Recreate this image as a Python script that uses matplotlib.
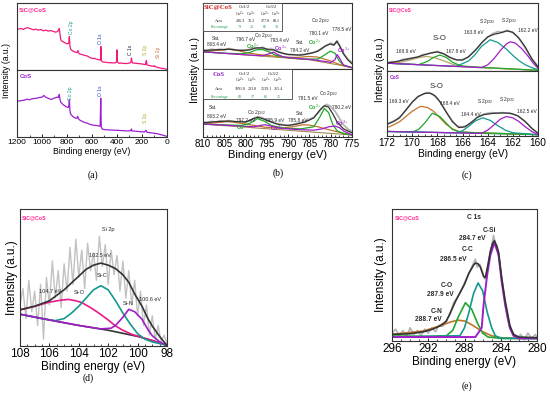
import matplotlib
matplotlib.use("Agg")
import matplotlib.pyplot as plt
from matplotlib.ticker import MultipleLocator
from matplotlib.patches import Rectangle

plt.rcParams['font.family'] = ['Liberation Sans', 'DejaVu Sans']
plt.rcParams['mathtext.fontset'] = 'custom'
plt.rcParams['mathtext.rm'] = 'Liberation Sans'
plt.rcParams['mathtext.it'] = 'Liberation Sans:italic'
plt.rcParams['mathtext.bf'] = 'Liberation Sans:bold'

# ---------------- DATA ----------------
# (a) survey spectra
a_top_x = [1200, 1190, 1170, 1150, 1130, 1110, 1090, 1070, 1050, 1030, 1010, 990, 970, 950, 930, 910, 890, 875, 862, 858,
           850, 840, 830, 820, 810, 800, 790, 785, 781, 778, 775, 770, 760, 750, 740, 730, 720, 712, 708, 700,
           690, 680, 670, 660, 650, 640, 630, 620, 610, 600, 590, 580, 570, 560, 550, 540, 532, 529, 526, 520,
           510, 500, 490, 480, 470, 460, 450, 440, 430, 420, 410, 404, 400, 396, 390, 380, 370, 360, 350, 340,
           330, 320, 310, 300, 290, 287, 284, 280, 275, 250, 200, 172, 168, 164, 160, 150, 130, 110, 104, 100,
           95, 80, 60, 40, 20, 0]
a_top_y = [0.60, 0.61, 0.62, 0.605, 0.625, 0.63, 0.615, 0.60, 0.61, 0.595, 0.605, 0.585, 0.595, 0.58, 0.59, 0.575, 0.565, 0.575, 0.62, 0.56,
           0.45, 0.43, 0.42, 0.41, 0.40, 0.39, 0.395, 0.42, 0.50, 0.40, 0.34, 0.31, 0.29, 0.28, 0.27, 0.265, 0.26, 0.29, 0.26, 0.24,
           0.235, 0.23, 0.225, 0.22, 0.215, 0.21, 0.20, 0.19, 0.18, 0.175, 0.17, 0.175, 0.165, 0.16, 0.155, 0.15, 0.15, 0.35, 0.15, 0.125,
           0.12, 0.115, 0.118, 0.11, 0.112, 0.108, 0.11, 0.105, 0.108, 0.105, 0.11, 0.12, 0.30, 0.12, 0.105, 0.10, 0.105, 0.10, 0.098, 0.10,
           0.095, 0.098, 0.10, 0.105, 0.11, 0.14, 0.18, 0.12, 0.105, 0.10, 0.09, 0.08, 0.13, 0.14, 0.075, 0.07, 0.062, 0.055, 0.058, 0.065,
           0.05, 0.042, 0.032, 0.025, 0.018, 0.012]
a_bot_x = [1200, 1180, 1160, 1140, 1120, 1100, 1080, 1060, 1040, 1020, 1000, 985, 975, 960, 940, 925, 910, 895, 880, 868,
           862, 858, 850, 840, 830, 820, 810, 800, 790, 785, 781, 778, 775, 770, 760, 750, 740, 730, 720, 715,
           710, 700, 690, 680, 670, 660, 650, 640, 630, 620, 610, 600, 580, 560, 545, 535, 530, 526, 520, 500,
           480, 460, 440, 420, 400, 380, 360, 340, 320, 300, 290, 285, 280, 260, 240, 220, 200, 180, 168, 160,
           140, 120, 100, 80, 60, 40, 20, 0]
a_bot_y = [0.53, 0.54, 0.545, 0.55, 0.565, 0.555, 0.57, 0.575, 0.58, 0.59, 0.595, 0.62, 0.60, 0.585, 0.57, 0.56, 0.575, 0.585, 0.595, 0.59,
           0.635, 0.58, 0.52, 0.50, 0.48, 0.47, 0.455, 0.445, 0.44, 0.47, 0.56, 0.44, 0.37, 0.34, 0.32, 0.30, 0.29, 0.28, 0.28, 0.31,
           0.28, 0.255, 0.245, 0.235, 0.225, 0.22, 0.21, 0.21, 0.20, 0.19, 0.185, 0.18, 0.175, 0.17, 0.165, 0.16, 0.58, 0.16, 0.12, 0.11,
           0.108, 0.105, 0.105, 0.10, 0.10, 0.098, 0.095, 0.095, 0.09, 0.092, 0.095, 0.12, 0.09, 0.088, 0.085, 0.08, 0.078, 0.075, 0.10, 0.07,
           0.065, 0.06, 0.055, 0.05, 0.04, 0.03, 0.02, 0.01]

# (b) Co 2p, SiC@CoS
b1_raw_x = [810, 809, 808, 807, 806, 805, 804, 803, 802, 801, 800, 799, 798, 797, 796, 795, 794, 793, 792, 791,
            790, 789, 788, 787, 786, 785, 784, 783, 782, 781, 780, 779, 778.5, 778, 777, 776, 775]
b1_raw_y = [0.29, 0.28, 0.30, 0.29, 0.30, 0.28, 0.31, 0.30, 0.28, 0.29, 0.28, 0.30, 0.33, 0.31, 0.33, 0.30, 0.31, 0.28, 0.26, 0.23,
            0.22, 0.22, 0.21, 0.22, 0.22, 0.24, 0.25, 0.28, 0.31, 0.36, 0.39, 0.37, 0.43, 0.37, 0.24, 0.15, 0.10]
b1_env_x = [810, 807, 804, 801, 799, 797.5, 796, 794.5, 793.4, 792, 790, 787, 784.5, 783, 781.5, 780.1, 779.3, 778.6, 778, 777, 776, 775]
b1_env_y = [0.28, 0.29, 0.30, 0.28, 0.29, 0.32, 0.32, 0.29, 0.29, 0.25, 0.22, 0.21, 0.24, 0.27, 0.34, 0.38, 0.36, 0.42, 0.36, 0.23, 0.14, 0.08]
b1_bg_x = [810, 795, 785, 778, 775]
b1_bg_y = [0.26, 0.19, 0.14, 0.06, 0.02]
b1_sat_x = [810, 807, 804, 802, 800, 797, 794, 791, 788, 785, 783, 780, 778, 775]
b1_sat_y = [0.26, 0.28, 0.30, 0.285, 0.25, 0.22, 0.20, 0.18, 0.175, 0.19, 0.18, 0.12, 0.07, 0.02]
b1_co2_x = [810, 805, 801, 799, 797.5, 796, 794.5, 793, 790, 786, 783, 781.5, 780.1, 779, 778, 777, 775]
b1_co2_y = [0.26, 0.24, 0.23, 0.25, 0.29, 0.295, 0.26, 0.21, 0.17, 0.15, 0.15, 0.21, 0.27, 0.24, 0.12, 0.06, 0.02]
b1_co3_x = [810, 800, 796, 794.5, 793.4, 792.5, 791, 788, 784, 780, 779, 778.5, 777.8, 777, 775]
b1_co3_y = [0.26, 0.215, 0.20, 0.23, 0.255, 0.22, 0.18, 0.16, 0.14, 0.10, 0.14, 0.22, 0.15, 0.06, 0.02]
b1_tab_cols = ["Co$^{2+}$", "Co$^{3+}$", "Co$^{2+}$", "Co$^{3+}$"]
b1_area = ["286.3", "76.2", "377.8", "89.1"]
b1_pct = ["79", "21", "81", "19"]

# (b) Co 2p, CoS
b2_raw_x = [810, 809, 808, 807, 806, 805, 804, 803, 802, 801, 800, 799, 798, 797, 796, 795, 794, 793, 792, 791,
            790, 789, 788, 787, 786, 785, 784, 783, 782, 781, 780, 779, 778, 777, 776, 775]
b2_raw_y = [0.22, 0.21, 0.23, 0.22, 0.24, 0.23, 0.24, 0.23, 0.22, 0.23, 0.22, 0.24, 0.28, 0.30, 0.28, 0.25, 0.23, 0.20, 0.19, 0.18,
            0.17, 0.18, 0.20, 0.21, 0.23, 0.26, 0.29, 0.35, 0.43, 0.48, 0.45, 0.38, 0.28, 0.18, 0.12, 0.08]
b2_env_x = [810, 807, 804, 802, 800, 798.5, 797.2, 796, 794, 792, 790, 788, 786, 784, 782.5, 781.5, 780.5, 779.5, 778.5, 777, 775]
b2_env_y = [0.21, 0.225, 0.235, 0.225, 0.22, 0.26, 0.29, 0.27, 0.22, 0.18, 0.17, 0.19, 0.22, 0.28, 0.40, 0.46, 0.44, 0.34, 0.22, 0.12, 0.06]
b2_bg_x = [810, 775]
b2_bg_y = [0.19, 0.03]
b2_sat_x = [810, 807, 804.5, 803, 801, 798, 795, 792, 789, 786.5, 785, 783, 780, 778, 775]
b2_sat_y = [0.19, 0.21, 0.225, 0.22, 0.20, 0.17, 0.14, 0.13, 0.15, 0.18, 0.175, 0.15, 0.10, 0.07, 0.03]
b2_co2_x = [810, 801, 799, 797.2, 795.5, 794, 791, 787, 784, 782.5, 781.5, 780.5, 779.5, 778.5, 777, 775]
b2_co2_y = [0.19, 0.17, 0.20, 0.27, 0.23, 0.17, 0.13, 0.12, 0.15, 0.30, 0.42, 0.36, 0.18, 0.09, 0.05, 0.03]
b2_co3_x = [810, 798, 796.5, 795.5, 794, 792, 788, 784, 782, 780.5, 779, 778, 777, 775]
b2_co3_y = [0.19, 0.15, 0.17, 0.18, 0.16, 0.13, 0.11, 0.10, 0.12, 0.15, 0.16, 0.14, 0.09, 0.03]
b2_area = ["1091.8", "213.8", "1539.1", "265.4"]
b2_pct = ["83", "17", "85", "15"]

# (c) S 2p, SiC@CoS
c1_raw_x = [172, 171.6, 171.2, 170.8, 170.4, 170, 169.6, 169.2, 168.8, 168.4, 168, 167.6, 167.2, 166.8, 166.4, 166,
            165.6, 165.2, 164.8, 164.4, 164, 163.6, 163.2, 162.8, 162.4, 162, 161.6, 161.2, 160.8, 160.4, 160]
c1_raw_y = [0.12, 0.14, 0.13, 0.17, 0.18, 0.19, 0.20, 0.24, 0.25, 0.27, 0.29, 0.26, 0.22, 0.18, 0.16, 0.17,
            0.20, 0.27, 0.34, 0.43, 0.50, 0.55, 0.58, 0.57, 0.60, 0.56, 0.50, 0.39, 0.27, 0.16, 0.07]
c1_env_x = [172, 171.5, 171, 170.5, 170, 169.5, 169, 168.5, 168, 167.5, 167, 166.5, 166, 165.5, 165, 164.5, 164,
            163.5, 163, 162.5, 162, 161.5, 161, 160.5, 160]
c1_env_y = [0.12, 0.13, 0.15, 0.17, 0.19, 0.21, 0.24, 0.265, 0.28, 0.255, 0.20, 0.165, 0.16, 0.21, 0.30, 0.41, 0.50,
            0.54, 0.56, 0.59, 0.57, 0.48, 0.35, 0.18, 0.06]
c1_bg_x = [172, 160]
c1_bg_y = [0.115, 0.01]
c1_so1_x = [172, 171, 170.2, 169.5, 168.9, 168.2, 167.5, 166.8, 166, 164, 162, 160]
c1_so1_y = [0.115, 0.125, 0.16, 0.195, 0.215, 0.195, 0.15, 0.10, 0.065, 0.045, 0.027, 0.01]
c1_so2_x = [172, 169.5, 168.8, 168.3, 167.8, 167.3, 166.8, 166.2, 165.5, 160]
c1_so2_y = [0.115, 0.093, 0.14, 0.20, 0.235, 0.20, 0.13, 0.08, 0.064, 0.01]
c1_s12_x = [172, 166.5, 165.5, 165, 164.5, 163.8, 163.2, 162.5, 162, 161.5, 161, 160.5, 160]
c1_s12_y = [0.115, 0.067, 0.15, 0.24, 0.36, 0.46, 0.42, 0.32, 0.23, 0.15, 0.09, 0.05, 0.02]
c1_s32_x = [172, 164.5, 164, 163.5, 163, 162.5, 162.2, 161.8, 161.3, 160.8, 160.4, 160]
c1_s32_y = [0.115, 0.05, 0.09, 0.18, 0.30, 0.40, 0.43, 0.41, 0.33, 0.22, 0.12, 0.04]

# (c) S 2p, CoS
c2_raw_x = c1_raw_x
c2_raw_y = [0.19, 0.22, 0.26, 0.33, 0.42, 0.52, 0.60, 0.64, 0.67, 0.65, 0.58, 0.47, 0.34, 0.23, 0.15, 0.14,
            0.17, 0.22, 0.29, 0.33, 0.35, 0.36, 0.35, 0.36, 0.35, 0.34, 0.31, 0.25, 0.18, 0.10, 0.05]
c2_env_x = [172, 171.5, 171, 170.5, 170, 169.5, 169, 168.6, 168.2, 167.8, 167.3, 166.8, 166.3, 165.8, 165.3, 164.8,
            164.3, 163.5, 162.8, 162.2, 161.6, 161, 160.5, 160]
c2_env_y = [0.18, 0.22, 0.28, 0.40, 0.52, 0.61, 0.655, 0.66, 0.62, 0.53, 0.37, 0.22, 0.13, 0.14, 0.21, 0.29,
            0.33, 0.35, 0.355, 0.35, 0.31, 0.22, 0.12, 0.04]
c2_bg_x = [172, 160]
c2_bg_y = [0.07, 0.02]
c2_so1_x = [172, 171.5, 171, 170.5, 170, 169.5, 169.3, 168.8, 168.3, 167.8, 167.3, 166.8, 166.3, 165.5, 160]
c2_so1_y = [0.13, 0.17, 0.22, 0.30, 0.38, 0.44, 0.455, 0.44, 0.38, 0.28, 0.18, 0.11, 0.07, 0.055, 0.02]
c2_so2_x = [172, 170, 169.5, 169, 168.4, 167.8, 167.3, 166.8, 166.2, 160]
c2_so2_y = [0.07, 0.062, 0.10, 0.20, 0.35, 0.30, 0.20, 0.10, 0.06, 0.02]
c2_s12_x = [172, 166.5, 166, 165.5, 165, 164.4, 163.8, 163.2, 162.6, 162, 160]
c2_s12_y = [0.07, 0.05, 0.08, 0.15, 0.23, 0.28, 0.24, 0.16, 0.09, 0.05, 0.02]
c2_s32_x = [172, 164.5, 164, 163.5, 163, 162.5, 162, 161.5, 161, 160.5, 160]
c2_s32_y = [0.07, 0.04, 0.09, 0.17, 0.26, 0.30, 0.28, 0.22, 0.14, 0.07, 0.02]

# (d) Si 2p
d_raw_x = [108.0, 107.8, 107.6, 107.4, 107.2, 107.0, 106.8, 106.6, 106.4, 106.2, 106.0, 105.8, 105.6, 105.4, 105.2,
           105.0, 104.8, 104.6, 104.4, 104.2, 104.0, 103.8, 103.6, 103.4, 103.2, 103.0, 102.8, 102.6, 102.4, 102.2,
           102.0, 101.8, 101.6, 101.4, 101.2, 101.0, 100.8, 100.6, 100.4, 100.2, 100.0, 99.8, 99.6, 99.4, 99.2,
           99.0, 98.8, 98.6, 98.4, 98.2, 98.0]
d_raw_y = [0.30, 0.42, 0.20, 0.48, 0.25, 0.40, 0.15, 0.45, 0.05, 0.50, 0.30, 0.62, 0.35, 0.55, 0.28,
           0.60, 0.40, 0.72, 0.45, 0.78, 0.50, 0.70, 0.42, 0.75, 0.55, 0.68, 0.48, 0.80, 0.58, 0.74,
           0.45, 0.70, 0.52, 0.66, 0.40, 0.62, 0.35, 0.55, 0.30, 0.48, 0.22, 0.40, 0.15, 0.30, 0.08,
           0.22, 0.05, 0.15, 0.03, 0.08, 0.02]
d_env_x = [108, 107, 106, 105.5, 105, 104.5, 104, 103.5, 103, 102.5, 102, 101.5, 101, 100.6, 100.2, 99.7, 99.3, 99, 98.5, 98.2, 98]
d_env_y = [0.265, 0.29, 0.33, 0.37, 0.41, 0.46, 0.51, 0.56, 0.59, 0.605, 0.59, 0.565, 0.52, 0.465, 0.38, 0.29, 0.20, 0.145, 0.07, 0.03, 0.005]
d_bg_x = [108, 106, 104, 102, 100, 99, 98]
d_bg_y = [0.232, 0.19, 0.15, 0.115, 0.07, 0.04, 0.005]
d_sio_x = [108, 107, 106, 105.2, 104.7, 104.2, 103.8, 103.2, 102.7, 102, 101.5, 101, 100.4, 99.3, 98]
d_sio_y = [0.263, 0.29, 0.32, 0.335, 0.34, 0.33, 0.317, 0.28, 0.245, 0.19, 0.146, 0.115, 0.085, 0.05, 0.005]
d_sic_x = [108, 106.5, 105.6, 105, 104.5, 104, 103.5, 103, 102.5, 102, 101.5, 101, 100.5, 100, 99.5, 99, 98]
d_sic_y = [0.232, 0.20, 0.185, 0.20, 0.24, 0.29, 0.35, 0.41, 0.44, 0.41, 0.33, 0.24, 0.16, 0.09, 0.05, 0.03, 0.005]
d_sin_x = [108, 106, 104, 102.5, 101.8, 101.5, 101, 100.6, 100.2, 99.7, 99.3, 99, 98.5, 98]
d_sin_y = [0.232, 0.19, 0.15, 0.125, 0.13, 0.15, 0.21, 0.268, 0.25, 0.195, 0.12, 0.075, 0.03, 0.005]

# (e) C 1s
e_raw_x = [296, 295.6, 295.2, 294.8, 294.4, 294, 293.6, 293.2, 292.8, 292.4, 292, 291.6, 291.2, 290.8, 290.4, 290,
           289.6, 289.2, 288.8, 288.4, 288, 287.6, 287.2, 286.8, 286.6, 286.3, 286, 285.8, 285.6, 285.3, 285,
           284.8, 284.6, 284.4, 284.2, 283.9, 283.6, 283.3, 283, 282.6, 282.2, 281.8, 281.4, 281, 280.6, 280.2, 280]
e_raw_y = [0.06, 0.09, 0.04, 0.08, 0.03, 0.10, 0.05, 0.08, 0.04, 0.09, 0.06, 0.10, 0.07, 0.12, 0.11, 0.16,
           0.20, 0.29, 0.33, 0.38, 0.44, 0.50, 0.56, 0.62, 0.56, 0.58, 0.52, 0.47, 0.50, 0.62, 0.72,
           0.80, 0.74, 0.72, 0.62, 0.48, 0.32, 0.18, 0.10, 0.06, 0.02, 0.05, 0.01, 0.06, 0.02, 0.05, 0.03]
e_env_x = [296, 294, 292.5, 291.5, 290.7, 290, 289.56, 289, 288.46, 288, 287.54, 287, 286.8, 286.5, 286.25, 285.9,
           285.7, 285.4, 285.15, 284.9, 284.7, 284.45, 284.23, 283.9, 283.5, 283, 282.6, 282, 280]
e_env_y = [0.05, 0.055, 0.07, 0.09, 0.115, 0.15, 0.215, 0.30, 0.37, 0.43, 0.51, 0.575, 0.59, 0.585, 0.56, 0.49,
           0.48, 0.58, 0.68, 0.74, 0.76, 0.72, 0.67, 0.48, 0.30, 0.12, 0.05, 0.03, 0.025]
e_cn_x = [296, 292.5, 290.7, 289.5, 288.7, 287.9, 287, 286, 285, 284, 282, 280]
e_cn_y = [0.05, 0.076, 0.115, 0.145, 0.158, 0.15, 0.115, 0.07, 0.04, 0.025, 0.02, 0.025]
e_co_x = [296, 292, 290, 289.3, 288.7, 287.9, 287.2, 286.6, 286, 285.4, 284, 280]
e_co_y = [0.038, 0.035, 0.04, 0.08, 0.18, 0.29, 0.24, 0.14, 0.06, 0.03, 0.02, 0.018]
e_cc_x = [296, 288.5, 288, 287.5, 287, 286.5, 286, 285.5, 285, 284.6, 284, 280]
e_cc_y = [0.03, 0.04, 0.10, 0.22, 0.36, 0.44, 0.38, 0.22, 0.10, 0.04, 0.02, 0.02]
e_csi_x = [296, 286.8, 286.1, 285.9, 285.5, 285.15, 284.7, 284.23, 283.9, 283.5, 283, 282.6, 282, 280]
e_csi_y = [0.03, 0.03, 0.10, 0.27, 0.50, 0.65, 0.745, 0.65, 0.45, 0.27, 0.10, 0.04, 0.02, 0.02]

# ---------------- STYLE ----------------
GRAY = '#b5b5b5'
ENV = '#333333'
GREEN = '#1fa82a'
PURPLE = '#a01ec8'
TEAL = '#14998e'
BROWN = '#c2732a'
TAN = '#b8a46a'
PINK = '#e8198b'
LPINK = '#ff1f8f'
TXT = '#2a2a2a'

W, H = 550, 394
fig = plt.figure(figsize=(5.5, 3.94), dpi=100)


def axes_px(l, t, r, b):
    return fig.add_axes([l / W, 1 - b / H, (r - l) / W, (b - t) / H])


def style(ax, xmin, xmax, major, minor, fs, show_x=True):
    ax.set_xlim(xmin, xmax)
    ax.set_ylim(0, 1)
    ax.set_yticks([])
    for s in ax.spines.values():
        s.set_linewidth(0.8)
        s.set_color('#333333')
    ax.xaxis.set_major_locator(MultipleLocator(major))
    ax.xaxis.set_minor_locator(MultipleLocator(minor))
    ax.tick_params(axis='x', which='major', direction='in', length=2.2, width=0.6, labelsize=fs, pad=1.5)
    ax.tick_params(axis='x', which='minor', direction='in', length=1.2, width=0.5)
    if not show_x:
        ax.tick_params(axis='x', which='both', bottom=False, labelbottom=False)


def t(ax, x, y, s, fs, color=TXT, **kw):
    ax.text(x, y, s, fontsize=fs, color=color, ha='center', va='center', **kw)


# ---------------- (a) ----------------
aa1 = axes_px(17, 3, 167, 70)
aa2 = axes_px(17, 70, 167, 137)
style(aa1, 1200, 0, 200, 100, 6, show_x=False)
style(aa2, 1200, 0, 200, 100, 6)
aa1.plot(a_top_x, a_top_y, color='#f2197c', lw=0.9)
aa2.plot(a_bot_x, a_bot_y, color='#9b20d2', lw=0.9)
aa1.text(0.015, 0.9, 'SiC@CoS', transform=aa1.transAxes, fontsize=4.3, color=LPINK, fontweight='bold', va='center')
aa2.text(0.015, 0.9, 'CoS', transform=aa2.transAxes, fontsize=4.3, color='#9b20d2', fontweight='bold', va='center')
t(aa1, 762, 0.64, 'Co 2p', 3.6, '#1a9e96', rotation=90)
t(aa1, 528, 0.47, 'O 1s', 3.6, '#1f3fbf', rotation=90)
t(aa1, 290, 0.30, 'C 1s', 3.6, '#222222', rotation=90)
t(aa1, 168, 0.30, 'S 2p', 3.6, '#b8a830', rotation=90)
t(aa1, 64, 0.27, 'Si 2p', 3.6, '#c0703a', rotation=90)
t(aa2, 768, 0.65, 'Co 2p', 3.6, '#1a9e96', rotation=90)
t(aa2, 528, 0.69, 'O 1s', 3.6, '#1f3fbf', rotation=90)
t(aa2, 168, 0.28, 'S 2p', 3.6, '#b8a830', rotation=90)
aa2.set_xlabel('Binding energy (eV)', fontsize=6.2, labelpad=1)
fig.text(7 / W, 1 - 70 / H, 'Intensity (a.u.)', rotation=90, fontsize=6.2, ha='center', va='center')
fig.text(93 / W, 1 - 175 / H, '(a)', fontsize=7, family='Liberation Serif', ha='center', va='center')

# ---------------- (b) ----------------
ab1 = axes_px(203, 3, 352, 69)
ab2 = axes_px(203, 69, 352, 137)
style(ab1, 810, 775, 5, 1, 7, show_x=False)
style(ab2, 810, 775, 5, 1, 7)
for ax, raw, env, bg, sat, c2, c3 in [
        (ab1, (b1_raw_x, b1_raw_y), (b1_env_x, b1_env_y), (b1_bg_x, b1_bg_y), (b1_sat_x, b1_sat_y),
         (b1_co2_x, b1_co2_y), (b1_co3_x, b1_co3_y)),
        (ab2, (b2_raw_x, b2_raw_y), (b2_env_x, b2_env_y), (b2_bg_x, b2_bg_y), (b2_sat_x, b2_sat_y),
         (b2_co2_x, b2_co2_y), (b2_co3_x, b2_co3_y))]:
    ax.plot(*raw, color=GRAY, lw=1.3)
    ax.plot(*bg, color='#a08a50', lw=0.8)
    ax.plot(*sat, color=BROWN, lw=0.9)
    ax.plot(*c2, color=GREEN, lw=0.9)
    ax.plot(*c3, color=PURPLE, lw=0.9)
    ax.plot(*env, color=ENV, lw=0.9)

fsb = 3.4
t(ab1, 806.9, 0.455, 'Sat.', fsb)
t(ab1, 806.8, 0.364, '803.4 eV', fsb)
t(ab1, 799.9, 0.44, '796.7 eV', fsb)
t(ab1, 798.3, 0.345, 'Co$^{2+}$', 3.9, GREEN, fontweight='bold')
t(ab1, 795.8, 0.515, 'Co 2p$_{1/2}$', fsb)
t(ab1, 791.9, 0.43, '793.4 eV', fsb)
t(ab1, 791.7, 0.32, 'Co$^{3+}$', 3.9, PURPLE, fontweight='bold')
t(ab1, 787.2, 0.40, 'Sat.', fsb)
t(ab1, 787.2, 0.28, '784.2 eV', fsb)
t(ab1, 782.4, 0.73, 'Co 2p$_{3/2}$', fsb)
t(ab1, 782.8, 0.54, '780.1 eV', fsb)
t(ab1, 777.4, 0.60, '778.5 eV', fsb)
t(ab1, 783.7, 0.41, 'Co$^{2+}$', 3.9, GREEN, fontweight='bold')
t(ab1, 776.8, 0.29, 'Co$^{3+}$', 3.9, PURPLE, fontweight='bold')

t(ab2, 807.6, 0.44, 'Sat.', fsb)
t(ab2, 806.9, 0.30, '803.2 eV', fsb)
t(ab2, 797.4, 0.36, 'Co 2p$_{1/2}$', fsb)
t(ab2, 799.9, 0.25, '797.2 eV', fsb)
t(ab2, 800.7, 0.145, 'Co$^{2+}$', 3.9, GREEN, fontweight='bold')
t(ab2, 793.1, 0.245, '795.9 eV', fsb)
t(ab2, 792.7, 0.13, 'Co$^{3+}$', 3.9, PURPLE, fontweight='bold')
t(ab2, 787.2, 0.35, 'Sat.', fsb)
t(ab2, 787.8, 0.25, '785.8 eV', fsb)
t(ab2, 785.5, 0.56, '781.5 eV', fsb)
t(ab2, 780.6, 0.64, 'Co 2p$_{3/2}$', fsb)
t(ab2, 783.7, 0.44, 'Co$^{2+}$', 3.9, GREEN, fontweight='bold')
t(ab2, 777.4, 0.43, '780.2 eV', fsb)
t(ab2, 777.4, 0.20, 'Co$^{3+}$', 3.9, PURPLE, fontweight='bold')


def table(ax, w, hb, title, tcolor, colx, rows_y, area, pct, hx):
    ax.add_patch(Rectangle((0, hb), w, 1 - hb, transform=ax.transAxes, fill=True, facecolor='white',
                           edgecolor='#444444', lw=0.6, zorder=5))
    kw = dict(transform=ax.transAxes, ha='center', va='center', family='Liberation Serif', zorder=6)
    ax.text(0.103, rows_y[0], title, fontsize=4.8, color=tcolor, fontweight='bold', **kw)
    ax.text(hx[0], rows_y[0], 'Co1/2', fontsize=3.3, color='#222222', **kw)
    ax.text(hx[1], rows_y[0], 'Co3/2', fontsize=3.3, color='#222222', **kw)
    for x, c in zip(colx, b1_tab_cols):
        ax.text(x, rows_y[1], c, fontsize=3.0, color='#222222', **kw)
    ax.text(0.11, rows_y[2], 'Area', fontsize=3.0, color='#222222', **kw)
    ax.text(0.11, rows_y[3], 'Percentage', fontsize=3.0, color='#20a050', **kw)
    for x, a_, p_ in zip(colx, area, pct):
        ax.text(x, rows_y[2], a_, fontsize=3.0, color='#222222', **kw)
        ax.text(x, rows_y[3], p_, fontsize=3.0, color='#20a050', **kw)


table(ab1, 0.528, 0.575, 'SiC@CoS', '#d42020', [0.248, 0.327, 0.416, 0.494], [0.935, 0.825, 0.725, 0.63],
      b1_area, b1_pct, [0.28, 0.456])
table(ab2, 0.595, 0.555, 'CoS', '#8a20c0', [0.248, 0.333, 0.423, 0.505], [0.92, 0.83, 0.705, 0.593],
      b2_area, b2_pct, [0.28, 0.47])

ab2.set_xlabel('Binding energy (eV)', fontsize=8, labelpad=0.5)
fig.text(195 / W, 1 - 70 / H, 'Intensity (a.u.)', rotation=90, fontsize=7.5, ha='center', va='center')
fig.text(278 / W, 1 - 173 / H, '(b)', fontsize=7, family='Liberation Serif', ha='center', va='center')

# ---------------- (c) ----------------
ac1 = axes_px(387, 3, 538, 71)
ac2 = axes_px(387, 71, 538, 136)
style(ac1, 172, 160, 2, 0.5, 7.3, show_x=False)
style(ac2, 172, 160, 2, 0.5, 7.3)
ac1.plot(c1_raw_x, c1_raw_y, color=GRAY, lw=1.2)
ac1.plot(c1_bg_x, c1_bg_y, color=TAN, lw=0.8)
ac1.plot(c1_so1_x, c1_so1_y, color=TAN, lw=0.9)
ac1.plot(c1_so2_x, c1_so2_y, color=GREEN, lw=0.9)
ac1.plot(c1_s12_x, c1_s12_y, color=TEAL, lw=0.9)
ac1.plot(c1_s32_x, c1_s32_y, color=PURPLE, lw=0.9)
ac1.plot(c1_env_x, c1_env_y, color=ENV, lw=0.9)
ac2.plot(c2_raw_x, c2_raw_y, color=GRAY, lw=1.2)
ac2.plot(c2_bg_x, c2_bg_y, color=TEAL, lw=0.8)
ac2.plot(c2_so1_x, c2_so1_y, color=BROWN, lw=0.9)
ac2.plot(c2_so2_x, c2_so2_y, color=GREEN, lw=0.9)
ac2.plot(c2_s12_x, c2_s12_y, color=TEAL, lw=0.9)
ac2.plot(c2_s32_x, c2_s32_y, color=PURPLE, lw=0.9)
ac2.plot(c2_env_x, c2_env_y, color=ENV, lw=0.9)
ac1.text(0.015, 0.9, 'SiC@CoS', transform=ac1.transAxes, fontsize=3.5, color=LPINK, fontweight='bold', va='center')
ac2.text(0.015, 0.9, 'CoS', transform=ac2.transAxes, fontsize=3.5, color='#9b20d2', fontweight='bold', va='center')
fsc = 3.5
t(ac1, 167.8, 0.48, 'S-O', 5.6)
t(ac1, 170.5, 0.294, '168.9 eV', fsc)
t(ac1, 166.5, 0.284, '167.8 eV', fsc)
t(ac1, 165.1, 0.563, '163.8 eV', fsc)
t(ac1, 164.0, 0.725, 'S 2p$_{1/2}$', fsc)
t(ac1, 162.3, 0.74, 'S 2p$_{3/2}$', fsc)
t(ac1, 160.8, 0.60, '162.2 eV', fsc)
t(ac2, 168.05, 0.758, 'S-O', 5.6)
t(ac2, 171.1, 0.528, '169.3 eV', fsc)
t(ac2, 167.0, 0.503, '168.4 eV', fsc)
t(ac2, 165.3, 0.338, '164.4 eV', fsc)
t(ac2, 164.2, 0.528, 'S 2p$_{1/2}$', fsc)
t(ac2, 162.4, 0.554, 'S 2p$_{3/2}$', fsc)
t(ac2, 160.9, 0.374, '162.5 eV', fsc)
ac2.set_xlabel('Binding energy (eV)', fontsize=7.3, labelpad=0.5)
fig.text(380 / W, 1 - 70 / H, 'Intensity (a.u.)', rotation=90, fontsize=7.3, ha='center', va='center')
fig.text(467 / W, 1 - 175 / H, '(c)', fontsize=7, family='Liberation Serif', ha='center', va='center')

# ---------------- (d) ----------------
ad = axes_px(20, 209, 167, 346)
style(ad, 108, 98, 2, 0.5, 8.5)
ad.plot(d_raw_x, d_raw_y, color='#c2c2c2', lw=1.0)
ad.plot(d_bg_x, d_bg_y, color='#333333', lw=1.2)
ad.plot(d_sio_x, d_sio_y, color=PINK, lw=1.2)
ad.plot(d_sic_x, d_sic_y, color=TEAL, lw=1.2)
ad.plot(d_sin_x, d_sin_y, color=PURPLE, lw=1.2)
ad.plot(d_env_x, d_env_y, color=ENV, lw=1.2)
ad.text(0.01, 0.936, 'SiC@CoS', transform=ad.transAxes, fontsize=3.8, color=LPINK, fontweight='bold', va='center')
fsd = 4.0
t(ad, 102.0, 0.847, 'Si 2p', fsd)
t(ad, 102.56, 0.664, '102.5 eV', fsd)
t(ad, 102.4, 0.513, 'Si-C', fsd)
t(ad, 105.96, 0.40, '104.7 eV', fsd)
t(ad, 104.0, 0.39, 'Si-O', fsd)
t(ad, 100.63, 0.307, 'Si-N', fsd)
t(ad, 99.16, 0.34, '100.6 eV', fsd)
ad.set_xlabel('Binding energy (eV)', fontsize=8.5, labelpad=0.5)
fig.text(11.7 / W, 1 - 278 / H, 'Intensity (a.u.)', rotation=90, fontsize=8.5, ha='center', va='center')
fig.text(88 / W, 1 - 378 / H, '(d)', fontsize=7, family='Liberation Serif', ha='center', va='center')

# ---------------- (e) ----------------
ae = axes_px(392, 209, 537, 341)
style(ae, 296, 280, 4, 1, 8.5)
ae.plot(e_raw_x, e_raw_y, color=GRAY, lw=1.2)
ae.plot(e_cn_x, e_cn_y, color=BROWN, lw=1.2)
ae.plot(e_co_x, e_co_y, color=GREEN, lw=1.2)
ae.plot(e_cc_x, e_cc_y, color=TEAL, lw=1.2)
ae.plot(e_csi_x, e_csi_y, color=PURPLE, lw=1.4)
ae.plot(e_env_x, e_env_y, color=ENV, lw=1.2)
ae.text(0.02, 0.935, 'SiC@CoS', transform=ae.transAxes, fontsize=3.8, color=LPINK, fontweight='bold', va='center')
fse = 4.8
t(ae, 287.0, 0.934, 'C 1s', fse, fontweight='bold')
t(ae, 285.26, 0.84, 'C-Si', fse, fontweight='bold')
t(ae, 287.1, 0.778, '284.7 eV', fse, fontweight='bold')
t(ae, 287.7, 0.69, 'C-C', fse, fontweight='bold')
t(ae, 289.2, 0.614, '286.5 eV', fse, fontweight='bold')
t(ae, 289.96, 0.424, 'C-O', fse, fontweight='bold')
t(ae, 290.7, 0.35, '287.9 eV', fse, fontweight='bold')
t(ae, 291.07, 0.227, 'C-N', fse, fontweight='bold')
t(ae, 292.0, 0.16, '288.7 eV', fse, fontweight='bold')
ae.set_xlabel('Binding energy (eV)', fontsize=8.5, labelpad=0.5)
fig.text(381 / W, 1 - 275 / H, 'Intensity (a.u.)', rotation=90, fontsize=8.5, ha='center', va='center')
fig.text(467 / W, 1 - 386 / H, '(e)', fontsize=7, family='Liberation Serif', ha='center', va='center')

fig.savefig('out.png', dpi=100)
